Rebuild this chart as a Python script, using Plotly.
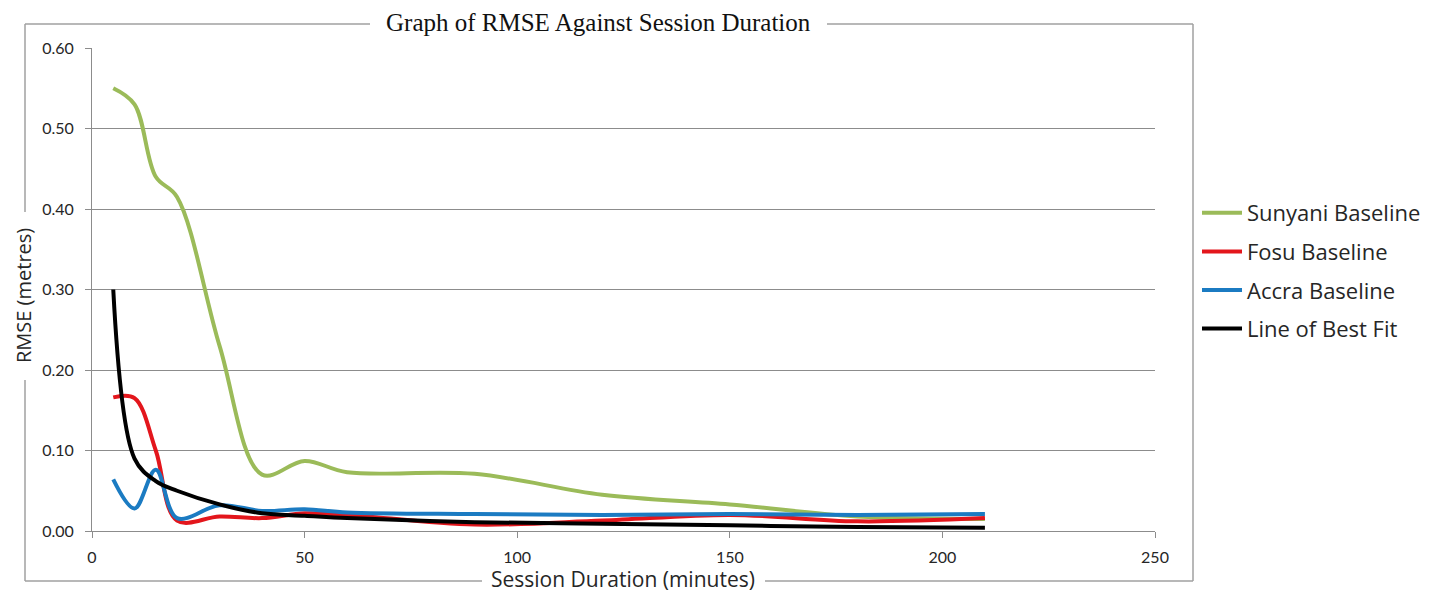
import plotly.graph_objects as go

# ---- data ----
duration = [5, 10, 15, 20, 30, 40, 50, 60, 90, 120, 150, 180, 210]
sunyani = [0.550, 0.530, 0.440, 0.415, 0.230, 0.070, 0.087, 0.073, 0.071, 0.045, 0.033, 0.018, 0.015]
fosu = [0.166, 0.165, 0.100, 0.013, 0.018, 0.016, 0.022, 0.020, 0.008, 0.013, 0.020, 0.012, 0.016]
accra = [0.064, 0.028, 0.076, 0.016, 0.032, 0.025, 0.027, 0.023, 0.021, 0.020, 0.021, 0.020, 0.021]
best_fit = [0.300, 0.090, 0.062, 0.050, 0.033, 0.022, 0.019, 0.016, 0.011, 0.009, 0.007, 0.005, 0.004]

series_names = ["Sunyani Baseline", "Fosu Baseline", "Accra Baseline", "Line of Best Fit"]
series_values = [sunyani, fosu, accra, best_fit]
series_colors = ["#9BBB59", "#E3161C", "#1B7BC2", "#000000"]

x_ticks = [0, 50, 100, 150, 200, 250]
y_ticks = [0.0, 0.1, 0.2, 0.3, 0.4, 0.5, 0.6]

# page body has an 8px margin: lay out in window pixels, shifted by it
OFF = 8
WIN_W, WIN_H = 1438, 593
W, H = WIN_W - OFF, WIN_H - OFF
PX0, PX1, PY0, PY1 = 92, 1155, 48, 531          # plot area in window pixels
L, T = PX0 - OFF, PY0 - OFF
R, B = W - (PX1 - OFF), H - (PY1 - OFF)
PW, PH = PX1 - PX0, PY1 - PY0


def xp(px):
    return (px - PX0) / PW


def yp(py):
    return (PY1 - py) / PH


fig = go.Figure()
for i, (name, vals, col) in enumerate(zip(series_names, series_values, series_colors)):
    fig.add_trace(go.Scatter(
        x=duration, y=vals, name=name, mode="lines",
        line=dict(color=col, width=4, shape="spline", smoothing=1.0),
        legendgroup=f"g{i}",
    ))

grid_col = "#8C8C8C"
frame_col = "#A0A0A0"
text_col = "#262626"

fig.update_layout(
    width=W, height=H,
    margin=dict(l=L, r=R, t=T, b=B, autoexpand=False),
    paper_bgcolor="white", plot_bgcolor="white",
    showlegend=True,
    legend=dict(
        x=xp(1197), y=yp(192), xanchor="left", yanchor="top",
        font=dict(family="Open Sans", size=22, color=text_col),
        bgcolor="rgba(0,0,0,0)", tracegroupgap=7,
        itemwidth=40,
    ),
    xaxis=dict(
        range=[0, 250], tickvals=x_ticks, ticktext=[str(v) for v in x_ticks],
        showgrid=False, zeroline=False, showline=True, linecolor=grid_col, linewidth=1,
        ticks="outside", ticklen=6, tickcolor=grid_col,
        tickfont=dict(family="Lato", size=16, color=text_col),
        ticklabelstandoff=6,
    ),
    yaxis=dict(
        range=[0, 0.6], tickvals=y_ticks, tickformat=".2f",
        showgrid=True, gridcolor=grid_col, gridwidth=1,
        zeroline=False, showline=True, linecolor=grid_col, linewidth=1,
        ticks="outside", ticklen=6, tickcolor=grid_col,
        tickfont=dict(family="Lato", size=16, color=text_col),
        ticklabelstandoff=8,
    ),
)

# outer chart frame, broken where the titles sit on it
segs = [
    (25, 24, 370, 24), (827, 24, 1193, 24),      # top
    (1193, 24, 1193, 581),                        # right
    (25, 581, 482, 581), (765, 581, 1193, 581),   # bottom
    (25, 24, 25, 212), (25, 380, 25, 581),        # left
]
for x0, y0, x1, y1 in segs:
    fig.add_shape(type="line", xref="paper", yref="paper",
                  x0=xp(x0), y0=yp(y0), x1=xp(x1), y1=yp(y1),
                  line=dict(color=frame_col, width=1.5), layer="above")

fig.add_annotation(text="Graph of RMSE Against Session Duration", xref="paper", yref="paper",
                   x=xp(598), y=yp(22), xanchor="center", yanchor="middle", showarrow=False,
                   font=dict(family="Liberation Serif", size=25, color="#111111"))
fig.add_annotation(text="Session Duration (minutes)", xref="paper", yref="paper",
                   x=xp(623), y=yp(579), xanchor="center", yanchor="middle", showarrow=False,
                   font=dict(family="Open Sans", size=21, color=text_col))
fig.add_annotation(text="RMSE (metres)", xref="paper", yref="paper", textangle=-90,
                   x=xp(23), y=yp(296), xanchor="center", yanchor="middle", showarrow=False,
                   font=dict(family="Open Sans", size=20, color=text_col))

fig.write_html("out.html")
